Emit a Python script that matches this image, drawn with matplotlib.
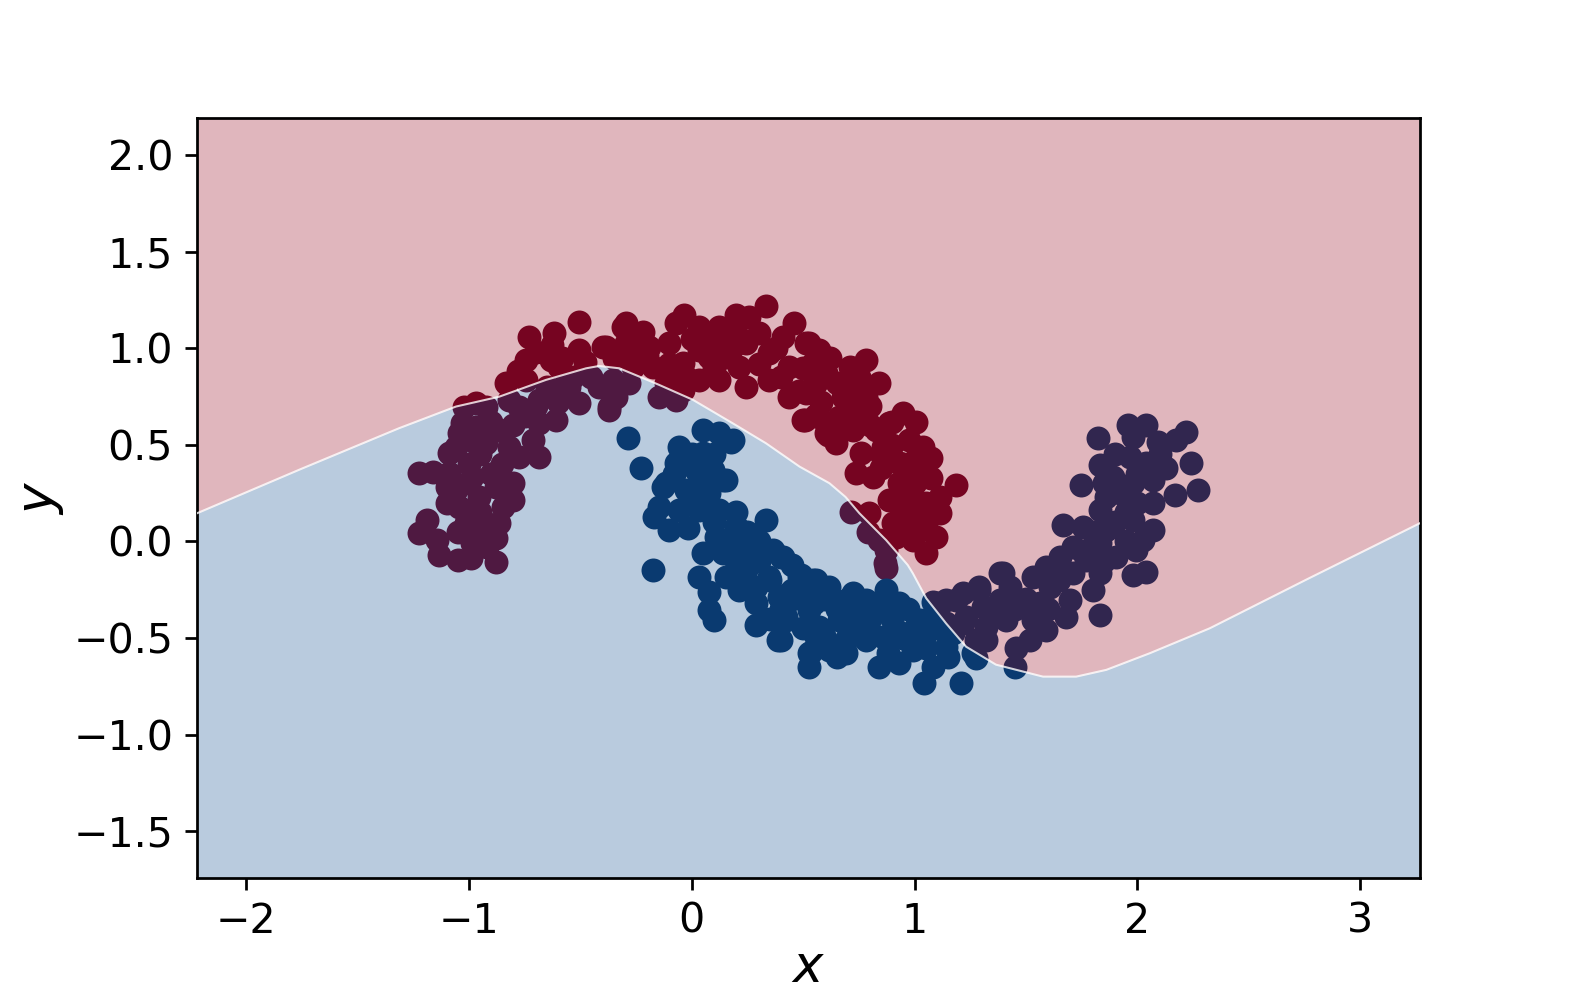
import matplotlib.pyplot as plt
import numpy as np

# class 0 (upper moon) points
moon0_x = [-0.505, -0.729, -0.617, -0.744, -0.625, -0.632, -0.505, -0.400, -0.310, -0.834, -0.744, -0.969, -1.021, -0.595,
           -1.223, -1.163, -1.088, -1.223, -1.186, -1.141, -1.133, -1.051, -0.991, -0.879, -0.879, -0.864, -0.954, -1.044,
           -1.058, -0.954, -0.804, -0.804, -0.879, -0.864, -1.088, -1.058, -1.044, -1.029, -0.969, -0.924, -0.864, -0.819,
           -0.774, -0.684, -0.714, -0.609, -0.684, -0.774, -0.819, -0.684, -0.595, -0.505, -0.415, -0.370, -0.340, -0.535,
           -0.924, -0.984, -0.924, -1.013, -0.984, -0.849,
           -1.0, -0.95, -1.0, -0.95, -1.05, -0.9, -0.8, -0.75, -0.7, -0.6, -0.55, -0.45, -0.65, -0.9, -1.1, -0.92,
           0.334, 0.461, -0.295, -0.220, -0.033, -0.071, 0.199, 0.259, 0.034, 0.124, -0.385, -0.295, -0.190, -0.176,
           -0.101, -0.041, -0.026, 0.034, 0.079, 0.154, 0.124, 0.214, 0.244, 0.244, 0.348, 0.348, 0.408, 0.438, 0.438,
           0.513, 0.543, 0.558, 0.498, 0.573, 0.603, -0.041, -0.115, 0.034, -0.265,
           -0.35, -0.25, 0.0, 0.1, 0.3, 0.18, 0.3, 0.4, 0.5, 0.48, 0.1, -0.1, 0.58,
           -0.355, -0.370, -0.280, -0.145, -0.071,
           0.528, 0.573, 0.783, 0.528, 0.603, 0.708, 0.842, 0.513, 0.678, 0.783, 0.558, 0.506, 0.663, 0.753, 0.610,
           0.648, 0.723, 0.828, 0.947, 1.007, 0.887, 0.760, 0.857, 0.977, 1.037, 1.075, 0.738, 0.812, 0.932, 0.932,
           1.022, 1.075, 1.187, 0.887, 0.977, 1.112, 1.112, 1.022, 0.902, 0.797, 1.097, 0.992, 1.052, 0.917,
           0.65, 0.72, 0.8, 0.7, 0.8, 0.85, 0.9, 0.95, 0.85, 1.0, 0.95, 1.05, 1.05, 0.95, 0.68,
           0.715, 0.790, 0.842, 0.872, 0.865, 0.872,
           -0.78, -0.70, -0.58, -0.48, -0.20, 0.20, 0.38, 0.62, 0.75, 0.90, 1.00, -0.98, -1.10, -0.85]
moon0_y = [1.138, 1.060, 1.078, 0.939, 1.017, 0.939, 0.991, 1.008, 1.112, 0.819, 0.836, 0.715, 0.698, 0.905,
           0.353, 0.361, 0.353, 0.042, 0.111, 0.007, -0.070, -0.096, -0.088, -0.105, 0.016, 0.094, 0.024, 0.180,
           0.266, 0.231, 0.214, 0.301, 0.283, 0.370, 0.456, 0.490, 0.560, 0.612, 0.594, 0.508, 0.577, 0.490,
           0.439, 0.439, 0.525, 0.629, 0.612, 0.698, 0.732, 0.732, 0.784, 0.715, 0.801, 0.680, 0.749, 0.853,
           0.698, 0.335, 0.094, 0.094, -0.010, 0.180,
           0.40, 0.45, 0.30, 0.15, 0.05, 0.62, 0.60, 0.65, 0.70, 0.72, 0.80, 0.85, 0.80, 0.35, 0.20, -0.03,
           1.216, 1.129, 1.129, 1.086, 1.172, 1.129, 1.172, 1.164, 1.112, 1.112, 1.008, 1.026, 1.008, 0.905,
           1.026, 0.922, 0.853, 0.836, 0.957, 0.957, 0.836, 0.905, 0.801, 1.026, 0.836, 0.974, 1.060, 0.905, 0.749,
           1.026, 0.922, 0.819, 0.629, 0.646, 0.560, 0.784, 0.819, 0.991, 0.905,
           0.95, 0.97, 1.05, 1.05, 1.08, 1.0, 0.92, 0.85, 0.9, 0.78, 0.9, 0.92, 0.72,
           0.836, 0.698, 0.819, 0.749, 0.732,
           1.026, 0.991, 0.939, 0.888, 0.871, 0.905, 0.819, 0.767, 0.749, 0.749, 0.655, 0.629, 0.646, 0.680, 0.551,
           0.508, 0.577, 0.577, 0.663, 0.620, 0.612, 0.456, 0.490, 0.525, 0.490, 0.430, 0.353, 0.335, 0.404, 0.301,
           0.353, 0.327, 0.292, 0.214, 0.231, 0.231, 0.146, 0.128, 0.094, 0.146, 0.024, 0.007, -0.062, 0.024,
           0.82, 0.80, 0.70, 0.70, 0.60, 0.45, 0.50, 0.40, 0.38, 0.30, 0.15, 0.20, 0.08, 0.08, 0.60,
           0.154, 0.050, 0.007, -0.045, -0.113, -0.139,
           0.88, 0.98, 0.95, 0.93, 0.96, 1.08, 1.00, 0.95, 0.85, 0.62, 0.42, 0.52, 0.28, 0.40]

# class 1 (lower moon) points
moon1_x = [-0.288, -0.228, 0.049, 0.124, 0.184, -0.056, -0.041, 0.049, 0.094, -0.115, 0.139,
           0.176, -0.071, 0.019, 0.154, -0.131, -0.026, 0.079, -0.168, -0.145, -0.101, -0.018, -0.056, 0.034,
           0.124, 0.199, 0.334, 0.229, 0.109, 0.049, 0.139, 0.244, 0.363, 0.401, -0.176, 0.034, 0.079, 0.079,
           0.101, 0.154, 0.244, 0.289, 0.214, 0.348, 0.289, 0.289, 0.386, 0.393, 0.423, 0.483, 0.513, 0.543,
           0.528, 0.558, 0.528, 0.528,
           0.0, 0.05, 0.0, 0.1, 0.2, 0.3, 0.2, 0.3, 0.35, 0.45, 0.4, 0.35, 0.1, -0.08,
           0.408, 0.491, 0.558, 0.618, 0.438, 0.423, 0.401, 0.536, 0.618, 0.693, 0.723, 0.783, 0.872, 0.932,
           0.857, 0.573, 0.663, 0.767, 0.693, 0.783, 0.857, 0.842, 0.932, 0.917, 1.022, 1.052, 0.992, 1.082,
           1.142, 1.044, 1.209, 1.277, 1.097,
           0.6, 0.65, 0.7, 0.75, 0.8, 0.9, 0.95, 1.0, 0.88, 0.6, 0.5, 1.1, 0.97,
           1.097, 1.187, 1.291, 1.381, 1.216, 1.321, 1.142,
           1.957, 2.040, 2.220, 1.823, 2.092, 2.175, 1.980, 1.830, 1.965, 2.040, 2.130, 2.242, 1.748, 2.272,
           2.167, 1.890, 1.980, 2.070, 2.070, 1.860, 1.830, 1.965, 1.980, 2.070, 2.025, 1.995, 1.666, 1.755,
           1.860, 1.710, 1.830, 1.651, 1.771, 1.905, 2.040, 1.980, 1.830, 1.710, 1.591, 1.531, 1.396, 1.426,
           1.606, 1.800, 1.696, 1.561, 1.830, 1.681, 1.591, 1.516, 1.456, 1.449, 1.291, 1.216, 1.142, 1.082,
           1.306, 1.381, 1.232, 1.321, 1.411, 1.277, 1.261, 1.172, 1.531,
           1.9, 2.0, 1.92, 1.9, 1.95, 1.8, 1.75, 1.65, 1.5, 1.45, 1.6, 1.35, 1.85, 2.0, 1.85,
           0.25, 0.15, 0.45, 0.55, 0.70, 0.80, 0.45, 0.65, 1.05, 1.15, 2.10, 1.95]
moon1_y = [0.534, 0.379, 0.577, 0.560, 0.525, 0.490, 0.404, 0.456, 0.370, 0.301, 0.318,
           0.516, 0.404, 0.370, 0.318, 0.283, 0.266, 0.249, 0.128, 0.180, 0.059, 0.068, 0.163, 0.163,
           0.163, 0.154, 0.111, 0.042, 0.024, -0.062, -0.062, -0.045, -0.045, -0.079, -0.148, -0.183, -0.260, -0.355,
           -0.407, -0.183, -0.148, -0.235, -0.252, -0.183, -0.321, -0.433, -0.511, -0.286, -0.390, -0.183, -0.286, -0.200,
           -0.355, -0.494, -0.579, -0.649,
           0.45, 0.30, 0.20, 0.10, 0.08, 0.0, -0.10, -0.10, -0.20, -0.25, -0.35, -0.40, 0.45, 0.35,
           -0.079, -0.174, -0.200, -0.235, -0.269, -0.407, -0.511, -0.571, -0.562, -0.579, -0.269, -0.303, -0.252, -0.321,
           -0.338, -0.442, -0.407, -0.424, -0.511, -0.511, -0.494, -0.649, -0.631, -0.459, -0.407, -0.476, -0.562, -0.649,
           -0.545, -0.735, -0.735, -0.605, -0.338,
           -0.30, -0.35, -0.45, -0.35, -0.40, -0.40, -0.50, -0.45, -0.58, -0.50, -0.45, -0.45, -0.35,
           -0.321, -0.303, -0.252, -0.165, -0.424, -0.511, -0.424,
           0.603, 0.603, 0.568, 0.534, 0.516, 0.525, 0.542, 0.396, 0.439, 0.404, 0.379, 0.404, 0.292, 0.266,
           0.240, 0.335, 0.301, 0.318, 0.197, 0.231, 0.163, 0.197, 0.111, 0.059, 0.007, -0.045, 0.085, 0.076,
           0.059, -0.027, -0.010, -0.079, -0.096, -0.079, -0.157, -0.174, -0.165, -0.165, -0.131, -0.183, -0.165, -0.235,
           -0.235, -0.252, -0.303, -0.321, -0.381, -0.390, -0.459, -0.511, -0.554, -0.649, -0.235, -0.269, -0.303, -0.312,
           -0.338, -0.303, -0.390, -0.442, -0.407, -0.511, -0.579, -0.476, -0.407,
           0.45, 0.35, 0.25, 0.10, 0.0, 0.05, -0.05, -0.20, -0.30, -0.35, -0.35, -0.35, -0.10, 0.20, 0.30,
           0.05, -0.02, -0.12, -0.32, -0.30, -0.48, -0.30, -0.60, -0.55, -0.60, 0.45, 0.15]

# decision boundary
boundary_x = [-2.219, -1.753, -1.313, -1.058, -0.864, -0.654, -0.474, -0.416, -0.325, -0.235, -0.146, 0.005,
              0.183, 0.333, 0.484, 0.618, 0.690, 0.752, 0.872, 0.969, 0.992, 1.052, 1.141, 1.231, 1.365, 1.576,
              1.725, 1.860, 2.055, 2.324, 2.766, 3.267]
boundary_y = [0.146, 0.375, 0.586, 0.698, 0.749, 0.836, 0.896, 0.908, 0.896, 0.853, 0.810, 0.733,
              0.612, 0.508, 0.387, 0.301, 0.230, 0.146, 0.007, -0.122, -0.165, -0.294, -0.424, -0.545, -0.638, -0.700,
              -0.700, -0.665, -0.579, -0.450, -0.193, 0.094]

x_range = (-2.219, 3.267)
y_range = (-1.74, 2.19)

cmap = plt.cm.RdBu

fig, ax = plt.subplots(figsize=(6.4, 4), dpi=246.5)

ax.scatter(moon0_x, moon0_y, s=36, color=cmap(0.0), zorder=1)
ax.scatter(moon1_x, moon1_y, s=36, color=cmap(1.0), zorder=1)

bx = np.array(boundary_x)
by = np.array(boundary_y)
ax.fill_between(bx, by, y_range[1], color=cmap(0.07), alpha=0.3, lw=0, zorder=2)
ax.fill_between(bx, y_range[0], by, color=cmap(0.93), alpha=0.3, lw=0, zorder=2)
ax.plot(bx, by, color='white', lw=0.6, alpha=0.8, zorder=3)

ax.set_xlim(*x_range)
ax.set_ylim(*y_range)
ax.tick_params(labelsize=12)
ax.set_xlabel('$x$', fontsize=15, labelpad=0.5)
ax.set_ylabel('$y$', fontsize=15, labelpad=2)

plt.savefig('out.png', dpi=246.5)
